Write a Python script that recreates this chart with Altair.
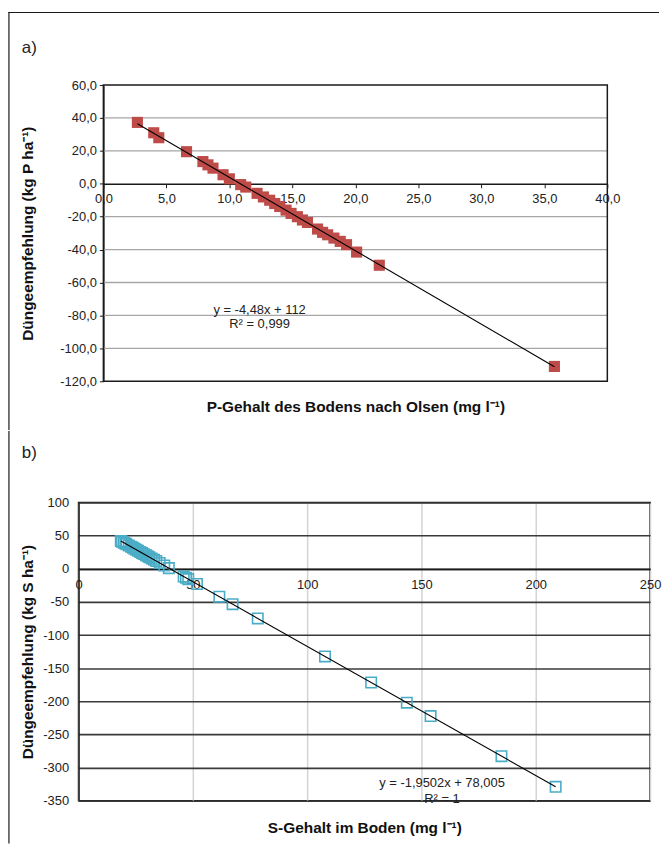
import altair as alt
import pandas as pd

# a) Olsen-P content of the soil (mg/l) and recommended P rate (kg P/ha)
p_gehalt = [2.7, 4.0, 4.4, 6.6, 7.9, 8.3, 8.7, 9.5, 10.0, 10.9, 11.3, 12.2, 12.7, 13.2,
            13.6, 14.0, 14.5, 14.9, 15.4, 15.8, 16.2, 17.0, 17.4, 17.8, 18.3, 18.8, 19.3,
            20.1, 21.9, 35.8]
p_empf = [37.3, 31.0, 28.0, 19.5, 13.5, 11.5, 9.5, 5.5, 3.0, -0.5, -2.0, -5.8, -8.0, -10.0,
          -12.0, -13.8, -16.0, -18.0, -20.0, -22.0, -23.5, -27.5, -29.5, -31.0, -33.0, -35.0,
          -37.0, -41.5, -49.5, -111.0]

# b) S content of the soil (mg/l) and recommended S rate (kg S/ha)
s_gehalt = [18.5, 19.0, 19.8, 20.5, 21.0, 22.0, 23.0, 23.8, 24.5, 25.3, 26.0, 27.0, 27.8,
            28.5, 29.5, 30.3, 31.0, 32.0, 33.0, 34.0, 35.5, 37.5, 39.5, 46.0, 47.0, 48.0,
            51.8, 61.6, 67.4, 78.4, 107.8, 128.0, 143.6, 154.0, 185.0, 208.7]
s_empf = [41.9, 41.0, 39.4, 38.0, 37.0, 35.1, 33.2, 31.6, 30.2, 28.7, 27.3, 25.3, 23.8,
          22.4, 20.5, 18.9, 17.5, 15.6, 13.6, 11.7, 8.8, 4.9, 1.0, -11.7, -13.7, -15.6,
          -23.0, -42.1, -53.4, -74.9, -132.2, -171.6, -202.0, -222.3, -282.8, -329.0]

p_gleichung = ["y = -4,48x + 112", "R² = 0,999"]
s_gleichung = ["y = -1,9502x + 78,005", "R² = 1"]

p_x_ticks = [0, 5, 10, 15, 20, 25, 30, 35, 40]
p_y_ticks = [-120, -100, -80, -60, -40, -20, 0, 20, 40, 60]
s_x_ticks = [0, 50, 100, 150, 200, 250]
s_y_ticks = [-350, -300, -250, -200, -150, -100, -50, 0, 50, 100]

FONT = "Liberation Sans, Arial, sans-serif"
INK = "#1a1a1a"
TXT = "#222222"
COMMA1 = "(datum.value < 0 ? '-' : '') + replace(format(abs(datum.value), '.1f'), '.', ',')"
PLAIN = "datum.value + ''"

label_style = dict(labelFont=FONT, labelFontSize=13, labelColor=TXT, labelOverlap=False)
title_style = dict(titleFont=FONT, titleFontSize=15.5, titleFontWeight="bold", titleColor="#111")


def frame_bar(x, x2, y, y2):
    # thin filled bar used for the page frame lines
    return alt.Chart(alt.Data(values=[{}])).mark_rect(color=INK).encode(
        x=alt.value(x), x2=alt.value(x2), y=alt.value(y), y2=alt.value(y2))


def deco_letter(text, x, y):
    return alt.Chart(alt.Data(values=[{}])).mark_text(
        font=FONT, fontSize=17, color=TXT, align="left", baseline="middle").encode(
        x=alt.value(x), y=alt.value(y), text=alt.value(text))


# ---------------- panel a ----------------
W1, H1, LEFT1 = 532, 298, 25
xs1 = alt.Scale(domain=[0, 40], range=[LEFT1, W1], nice=False, zero=False)
ys1 = alt.Scale(domain=[-120, 60], nice=False, zero=False)
zero1 = H1 * 120 / 180

p_df = pd.DataFrame({"x": p_gehalt, "y": p_empf})

grid1 = alt.Chart(pd.DataFrame({"y": [v for v in p_y_ticks if v not in (-120, 0, 60)]})).transform_calculate(
    x0="0", x1="40").mark_rule(color="#a6a6a6", strokeWidth=1.3).encode(
    x=alt.X("x0:Q", scale=xs1, axis=None), x2="x1:Q",
    y=alt.Y("y:Q", scale=ys1, axis=None))

frame1 = alt.Chart(alt.Data(values=[{"x0": 0, "x1": 40, "y0": -120, "y1": 60}])).mark_rect(
    fillOpacity=0, stroke=INK, strokeWidth=1.5).encode(
    x=alt.X("x0:Q", scale=xs1, axis=None), x2="x1:Q",
    y=alt.Y("y0:Q", scale=ys1, axis=None), y2="y1:Q")

points1 = alt.Chart(p_df).mark_point(shape="square", size=125, filled=True, opacity=1,
                                     color="#be4b48").encode(
    x=alt.X("x:Q", scale=xs1, axis=alt.Axis(
        orient="bottom", values=p_x_ticks, labelExpr=COMMA1, title=None, grid=False,
        offset=-zero1, domainColor=INK, domainWidth=1.5, ticks=True, tickColor=INK,
        tickSize=4, labelPadding=5, labelFlush=False, **label_style)),
    y=alt.Y("y:Q", scale=ys1, axis=alt.Axis(
        orient="left", offset=-LEFT1, values=p_y_ticks, labelExpr=COMMA1,
        title="Düngeempfehlung (kg P ha⁻¹)", grid=False, domainColor=INK, domainWidth=1.5,
        ticks=True, tickColor=INK, tickSize=4, labelPadding=3, titlePadding=24,
        **label_style, **title_style)),
)

trend1 = alt.Chart(p_df).transform_regression("x", "y").mark_line(
    color="black", strokeWidth=1.1).encode(
    x=alt.X("x:Q", scale=xs1, axis=alt.Axis(
        orient="bottom", title="P-Gehalt des Bodens nach Olsen (mg l⁻¹)", labels=False,
        ticks=False, domain=False, grid=False, titlePadding=18, **title_style)),
    y=alt.Y("y:Q", scale=ys1, axis=None),
)

eq1 = alt.Chart(pd.DataFrame({"t": p_gleichung})).transform_calculate(
    gx="12.4", gy="datum.t == 'R² = 0,999' ? -85.5 : -76.5").mark_text(
    font=FONT, fontSize=13, color=TXT, align="center", baseline="middle").encode(
    x=alt.X("gx:Q", scale=xs1, axis=None), y=alt.Y("gy:Q", scale=ys1, axis=None), text="t:N")

top = alt.layer(
    frame_bar(-70.6, 584, -73.6, -72.4),
    frame_bar(-70.6, -69.4, -73.6, 347),
    deco_letter("a)", -57, -37),
    grid1, frame1, points1, trend1, eq1,
).resolve_axis(x="independent", y="independent").properties(
    width=W1, height=H1, view=alt.ViewBackground(stroke=None))

# ---------------- panel b ----------------
W2, H2 = 575, 300
xs2 = alt.Scale(domain=[0, 250], nice=False, zero=False)
ys2 = alt.Scale(domain=[-350, 100], nice=False, zero=False)
zero2 = H2 * 350 / 450

s_df = pd.DataFrame({"x": s_gehalt, "y": s_empf})

points2 = alt.Chart(s_df).mark_point(shape="square", size=110, filled=False, opacity=1,
                                     color="#4bacc6", strokeWidth=1.6).encode(
    x=alt.X("x:Q", scale=xs2, axis=alt.Axis(
        orient="bottom", values=s_x_ticks, labelExpr=PLAIN, title=None, grid=False,
        offset=-zero2, domainColor=INK, domainWidth=1.5, ticks=False, labelPadding=10,
        labelFlush=False, **label_style)),
    y=alt.Y("y:Q", scale=ys2, axis=None),
)

trend2 = alt.Chart(s_df).transform_regression("x", "y").mark_line(
    color="black", strokeWidth=1.1).encode(
    x=alt.X("x:Q", scale=xs2, axis=alt.Axis(
        orient="bottom", title="S-Gehalt im Boden (mg l⁻¹)", values=s_x_ticks, labels=False,
        ticks=False, domain=False, grid=True, gridColor="#d4d4d4", gridWidth=1.5,
        titlePadding=20, **title_style)),
    y=alt.Y("y:Q", scale=ys2, axis=alt.Axis(
        orient="left", values=s_y_ticks, labelExpr=PLAIN, title="Düngeempfehlung (kg S ha⁻¹)",
        grid=True, gridColor="#3a3a3a", gridWidth=1.6, domainColor=INK, domainWidth=1.5,
        ticks=False, labelPadding=10, titlePadding=7, **label_style, **title_style)),
)

eq2 = alt.Chart(pd.DataFrame({"t": s_gleichung})).transform_calculate(
    gx="159", gy="datum.t == 'R² = 1' ? -348 : -324").mark_text(
    font=FONT, fontSize=13, color=TXT, align="center", baseline="middle").encode(
    x=alt.X("gx:Q", scale=xs2, axis=None), y=alt.Y("gy:Q", scale=ys2, axis=None), text="t:N")

bottom = alt.layer(
    frame_bar(-70.6, -69.4, -72, 343),
    deco_letter("b)", -57, -50),
    points2, trend2, eq2,
).resolve_axis(x="independent", y="independent").properties(width=W2, height=H2)

chart = alt.vconcat(top, bottom, spacing=0).properties(
    padding={"left": 7, "top": 9, "right": 0, "bottom": 0},
    background="white",
).configure_view(stroke=INK, strokeWidth=1.5)

chart.save("out.html", embed_options={"renderer": "svg", "actions": False})
